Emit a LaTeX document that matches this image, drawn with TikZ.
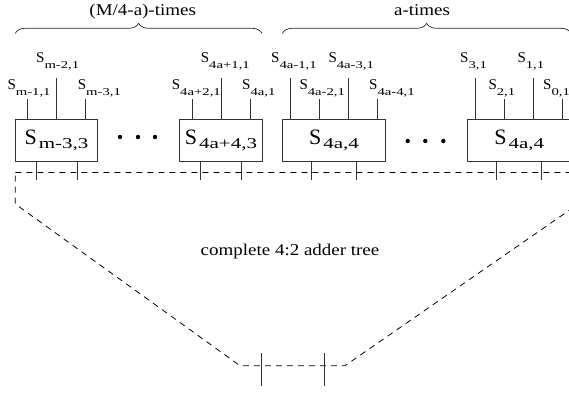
\documentclass[tikz,border=0pt]{standalone}
\usepackage{fontspec}
\setmainfont{Liberation Serif}
\newfontfamily\txtfont{Liberation Serif}[FakeStretch=1.15]
\newfontfamily\subfont{Liberation Serif}[FakeStretch=1.4]
\usetikzlibrary{decorations.pathreplacing}

% input signal label and counter/compressor label
\newcommand{\insig}[1]{{\fontsize{15}{15}\selectfont S}%
  \raisebox{-6pt}{\subfont\fontsize{10.5}{10.5}\selectfont #1}}
\newcommand{\boxsig}[1]{{\fontsize{22}{22}\selectfont S}\hspace{2pt}%
  \raisebox{-4pt}{\subfont\fontsize{15}{15}\selectfont #1}}

\begin{document}
\begin{tikzpicture}[
    x=10pt, y=-10pt,
    wire/.style={draw=black!80, line width=0.8pt},
    csa/.style={draw=black!80, line width=0.8pt, inner sep=0pt,
                minimum width=82.4pt, minimum height=42pt},
    cmp/.style={csa, minimum width=103.5pt},
    lbl/.style={anchor=base west, inner sep=0pt},
    txt/.style={anchor=base, inner sep=0pt,
                font=\txtfont\fontsize{16.5}{17}\selectfont},
    tree/.style={draw=black, line width=0.8pt, dash pattern=on 6pt off 5pt},
    brace/.style={draw=black!85, line width=0.7pt,
                  decorate, decoration={brace, amplitude=10pt}},
]
\useasboundingbox (0,0) rectangle (56.9,39.3);

% --- BOXES ---
\node[csa] (csa1) at (5.65, 14.0)  {\boxsig{m-3,3}};
\node[csa] (csa2) at (22.1, 14.0)  {\boxsig{4a+4,3}};
\node[cmp] (cmp1) at (33.4, 14.0)  {\boxsig{4a,4}};
\node[cmp] (cmp2) at (51.93, 14.0) {\boxsig{4a,4}};

% dots between the boxes
\fill (12.0,13.7) circle (2.2pt) (13.8,13.7) circle (2.2pt)
      (15.5,13.7) circle (2.2pt);
\fill (40.77,14.1) circle (2.2pt) (42.53,14.1) circle (2.2pt)
      (44.33,14.1) circle (2.2pt);

% --- INPUTS ---
\coordinate (t1)  at (2.77, 9.9);
\coordinate (t2)  at (5.67, 7.83);
\coordinate (t3)  at (8.57, 9.9);
\coordinate (t4)  at (19.23, 9.9);
\coordinate (t5)  at (22.13, 7.83);
\coordinate (t6)  at (25.0, 9.9);
\coordinate (t7)  at (29.07, 7.83);
\coordinate (t8)  at (31.97, 9.9);
\coordinate (t9)  at (34.83, 7.83);
\coordinate (t10) at (37.7, 9.9);
\coordinate (t11) at (47.57, 7.83);
\coordinate (t12) at (50.47, 9.9);
\coordinate (t13) at (53.33, 7.83);
\coordinate (t14) at (56.23, 9.9);

\node[lbl] (i1)  at (0.73, 8.9)  {\insig{m-1,1}};
\node[lbl] (i2)  at (3.6, 6.3)   {\insig{m-2,1}};
\node[lbl] (i3)  at (7.77, 8.9)  {\insig{m-3,1}};
\node[lbl] (i4)  at (17.17, 8.9) {\insig{4a+2,1}};
\node[lbl] (i5)  at (20.07, 6.3) {\insig{4a+1,1}};
\node[lbl] (i6)  at (24.2, 8.9)  {\insig{4a,1}};
\node[lbl] (i7)  at (27.1, 6.3)  {\insig{4a-1,1}};
\node[lbl] (i8)  at (29.93, 8.9) {\insig{4a-2,1}};
\node[lbl] (i9)  at (32.83, 6.3) {\insig{4a-3,1}};
\node[lbl] (i10) at (36.9, 8.9)  {\insig{4a-4,1}};
\node[lbl] (i11) at (46.0, 6.3)  {\insig{3,1}};
\node[lbl] (i12) at (48.83, 8.9) {\insig{2,1}};
\node[lbl] (i13) at (51.73, 6.3) {\insig{1,1}};
\node[lbl] (i14) at (54.3, 8.9)  {\insig{0,1}};

\draw[wire] (t1)  -- (t1 |- csa1.north);
\draw[wire] (t2)  -- (t2 |- csa1.north);
\draw[wire] (t3)  -- (t3 |- csa1.north);
\draw[wire] (t4)  -- (t4 |- csa2.north);
\draw[wire] (t5)  -- (t5 |- csa2.north);
\draw[wire] (t6)  -- (t6 |- csa2.north);
\draw[wire] (t7)  -- (t7 |- cmp1.north);
\draw[wire] (t8)  -- (t8 |- cmp1.north);
\draw[wire] (t9)  -- (t9 |- cmp1.north);
\draw[wire] (t10) -- (t10 |- cmp1.north);
\draw[wire] (t11) -- (t11 |- cmp2.north);
\draw[wire] (t12) -- (t12 |- cmp2.north);
\draw[wire] (t13) -- (t13 |- cmp2.north);
\draw[wire] (t14) -- (t14 |- cmp2.north);

% --- OUTPUTS ---
\draw[wire] ([xshift=-20.5pt]csa1.south) -- ++(0,1.9);
\draw[wire] ([xshift=20.5pt]csa1.south) -- ++(0,1.9);
\draw[wire] ([xshift=-20.5pt]csa2.south) -- ++(0,1.9);
\draw[wire] ([xshift=20.5pt]csa2.south) -- ++(0,1.9);
\draw[wire] ([xshift=-22.5pt]cmp1.south) -- ++(0,1.9);
\draw[wire] ([xshift=22.5pt]cmp1.south) -- ++(0,1.9);
\draw[wire] ([xshift=-23pt]cmp2.south) -- ++(0,1.9);
\draw[wire] ([xshift=22pt]cmp2.south) -- ++(0,1.9);

% --- ADDER TREE ---
\draw[tree] (1.53,17.25) -- (57.4,17.25) -- (57.4,20.7)
    -- (34.5,36.57) -- (24.0,36.57) -- (1.53,20.4) -- cycle;
\node[txt] (tree) at (29.0, 25.5) {complete 4:2 adder tree};

\coordinate (root) at (29.29, 36.57);
\draw[wire] ([xshift=-31.2pt]root) ++(0,-1.25) -- ++(0,3.25);
\draw[wire] ([xshift=31.2pt]root) ++(0,-1.25) -- ++(0,3.25);

% --- BRACES ---
\draw[brace] (1.53,3.33) -- (26.2,3.33);
\draw[brace] (28.23,3.33) -- (57.1,3.33);
\node[txt] (nA) at (14.27, 1.55) {(M/4-a)-times};
\node[txt] (nB) at (42.2, 1.55) {a-times};

\end{tikzpicture}
\end{document}
